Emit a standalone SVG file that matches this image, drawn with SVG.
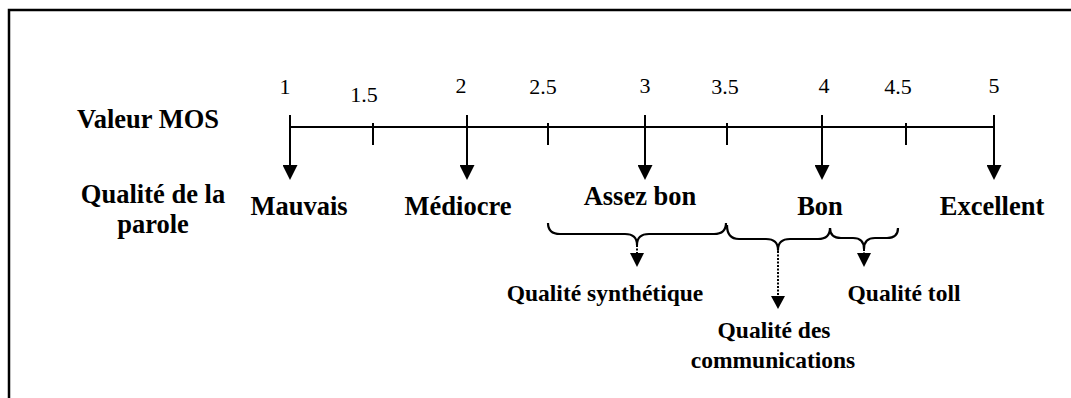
<svg xmlns="http://www.w3.org/2000/svg" width="1071" height="398" viewBox="0 0 1071 398">
  <style>
    .frame { fill: none; stroke: #000; stroke-width: 2.5; }
    .axis { fill: none; stroke: #000; stroke-width: 2; }
    .brace { fill: none; stroke: #000; stroke-width: 2.2; stroke-linejoin: round; }
    .dots { fill: none; stroke: #000; stroke-width: 2; stroke-dasharray: 2 1.5; }
    .head { fill: #000; }
  </style>
  <defs>
    <marker id="arrow" viewBox="0 0 15 15" refX="5" refY="7.5" markerWidth="15" markerHeight="15" markerUnits="userSpaceOnUse" orient="auto">
      <path d="M0,0 L15,7.5 L0,15 z" fill="#000"/>
    </marker>
  </defs>

  <rect width="1071" height="398" fill="#fff"/>
  <!-- open frame: top and left edges -->
  <path class="frame" d="M9,398 L9,10 L1071,10"/>

  <g style="font-family: 'Liberation Serif', serif" fill="#000" text-anchor="middle">
    <!-- row headings -->
    <g id="heading-mos" font-size="26.5" font-weight="bold">
      <text x="77" y="128" text-anchor="start">Valeur MOS</text>
    </g>
    <g id="heading-quality" font-size="26.5" font-weight="bold">
      <text x="153" y="203">Qualité de la</text>
      <text x="153" y="233">parole</text>
    </g>

    <!-- MOS scale values -->
    <g id="scale-values" font-size="22">
      <text x="285" y="94">1</text>
      <text x="364" y="102">1.5</text>
      <text x="461" y="93">2</text>
      <text x="543" y="94">2.5</text>
      <text x="645" y="93">3</text>
      <text x="725" y="94">3.5</text>
      <text x="824" y="93">4</text>
      <text x="898" y="94">4.5</text>
      <text x="994" y="93">5</text>
    </g>

    <!-- quality levels -->
    <g font-size="26.5" font-weight="bold">
      <g id="mauvais"><text x="299" y="215">Mauvais</text></g>
      <g id="mediocre"><text x="458" y="215">Médiocre</text></g>
      <g id="assez-bon"><text x="640" y="205">Assez bon</text></g>
      <g id="bon"><text x="820" y="215">Bon</text></g>
      <g id="excellent"><text x="992" y="215">Excellent</text></g>
    </g>

    <!-- quality classes -->
    <g font-size="23.5" font-weight="bold">
      <g id="synthetique"><text x="605" y="301">Qualité synthétique</text></g>
      <g id="communications">
        <text x="774" y="338">Qualité des</text>
        <text x="773" y="368">communications</text>
      </g>
      <g id="toll"><text x="904" y="301">Qualité toll</text></g>
    </g>
  </g>

  <!-- MOS scale axis -->
  <g id="scale">
    <line class="axis" x1="290" y1="127" x2="994" y2="127"/>
    <!-- half-point ticks -->
    <line class="axis" x1="373" y1="123" x2="373" y2="145"/>
    <line class="axis" x1="548" y1="123" x2="548" y2="145"/>
    <line class="axis" x1="727" y1="123" x2="727" y2="145"/>
    <line class="axis" x1="906" y1="123" x2="906" y2="145"/>
  </g>

  <!-- connectors -->
  <g id="connectors">
    <line class="axis" x1="290" y1="115" x2="290" y2="170" marker-end="url(#arrow)"/>
    <line class="axis" x1="467" y1="115" x2="467" y2="170" marker-end="url(#arrow)"/>
    <line class="axis" x1="645" y1="115" x2="645" y2="170" marker-end="url(#arrow)"/>
    <line class="axis" x1="822" y1="115" x2="822" y2="170" marker-end="url(#arrow)"/>
    <line class="axis" x1="994" y1="115" x2="994" y2="170" marker-end="url(#arrow)"/>

    <path class="brace" d="M548,223 Q548,234 560,234 L625,234 Q637,234 637,245 Q637,234 649,234 L714,234 Q726,234 726,223"/>
    <path class="brace" d="M727,225 Q727,239 739,239 L766,239 Q778,239 778,250 Q778,239 790,239 L818,239 Q830,239 830,228"/>
    <path class="brace" d="M830,228 Q830,238 841,238 L853,238 Q864,238 864,249 Q864,238 875,238 L887,238 Q898,238 898,228"/>

    <line class="dots" x1="637" y1="245" x2="637" y2="254"/>
    <path class="head" d="M630,253 L644,253 L637,267 z"/>
    <line class="dots" x1="778" y1="251" x2="778" y2="297"/>
    <path class="head" d="M771,296 L785,296 L778,309 z"/>
    <line class="dots" x1="864" y1="249" x2="864" y2="254"/>
    <path class="head" d="M857,253 L871,253 L864,267 z"/>
  </g>
</svg>
